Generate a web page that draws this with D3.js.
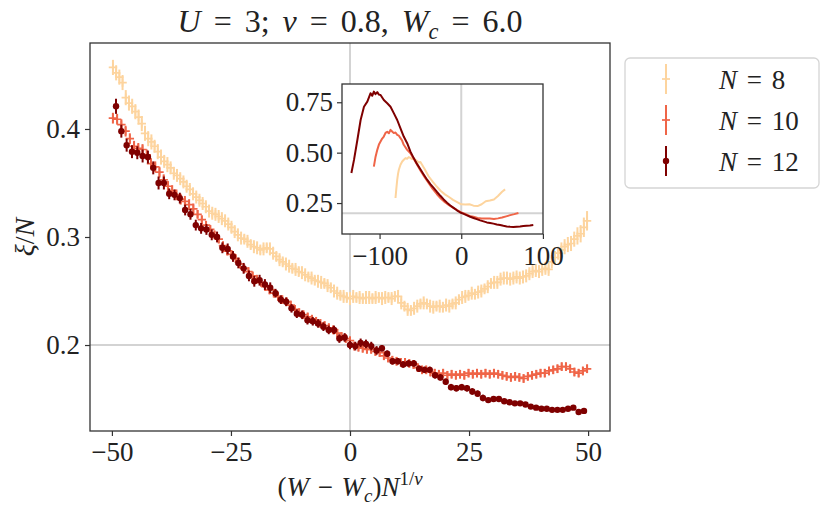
<!DOCTYPE html>
<html>
<head>
<meta charset="utf-8">
<script src="https://cdn.jsdelivr.net/npm/d3@7"></script>
<style>
  body { margin: 0; background: #fff; }
  svg text { font-family: "Liberation Serif", "DejaVu Serif", serif; fill: #222; }
</style>
</head>
<body>
<svg id="chart" width="830" height="517"></svg>
<script>
// ---- parameters of the scaling ----
const W_C = 6.0;
const NU = 0.8;
const W_STEP = 0.05;          // grid step in W, x = (W - Wc) N^(1/nu)
const sizes = [8, 10, 12];
const colors = ['#fdd49e', '#ef6548', '#7f0000'];

// ---- main panel: xi/N, points centred on W = Wc ----
const xi8 = [
  0.457, 0.452, 0.448, 0.443, 0.429, 0.424, 0.421, 0.416, 0.411, 0.405,
  0.396, 0.391, 0.388, 0.384, 0.379, 0.374, 0.370, 0.367, 0.364, 0.359,
  0.357, 0.354, 0.351, 0.347, 0.344, 0.340, 0.337, 0.334, 0.331, 0.328,
  0.324, 0.322, 0.321, 0.319, 0.317, 0.315, 0.312, 0.309, 0.305, 0.302,
  0.299, 0.298, 0.296, 0.293, 0.291, 0.290, 0.288, 0.289, 0.290, 0.289,
  0.285, 0.282, 0.279, 0.277, 0.275, 0.273, 0.271, 0.270, 0.268, 0.267,
  0.265, 0.263, 0.262, 0.260, 0.259, 0.258, 0.257, 0.255, 0.253, 0.250,
  0.248, 0.246, 0.245, 0.244, 0.243, 0.245, 0.244, 0.244, 0.243, 0.244,
  0.244, 0.243, 0.244, 0.244, 0.243, 0.244, 0.244, 0.243, 0.245, 0.245,
  0.239, 0.236, 0.233, 0.232, 0.234, 0.236, 0.238, 0.239, 0.238, 0.236,
  0.235, 0.236, 0.236, 0.235, 0.237, 0.236, 0.238, 0.239, 0.242, 0.244,
  0.245, 0.246, 0.248, 0.247, 0.249, 0.250, 0.252, 0.254, 0.257, 0.258,
  0.258, 0.261, 0.262, 0.262, 0.261, 0.262, 0.263, 0.262, 0.263, 0.264,
  0.266, 0.268, 0.269, 0.268, 0.270, 0.271, 0.270, 0.277, 0.281, 0.285,
  0.288, 0.291, 0.293, 0.294, 0.298, 0.301, 0.303, 0.309, 0.315
];
const err8 = [
  0.007, 0.007, 0.007, 0.007, 0.007, 0.007, 0.007, 0.007, 0.007, 0.007,
  0.007, 0.007, 0.007, 0.006, 0.007, 0.007, 0.006, 0.007, 0.006, 0.006,
  0.006, 0.006, 0.006, 0.006, 0.006, 0.006, 0.006, 0.006, 0.006, 0.006,
  0.006, 0.006, 0.006, 0.006, 0.006, 0.006, 0.006, 0.006, 0.006, 0.006,
  0.006, 0.005, 0.006, 0.005, 0.006, 0.006, 0.005, 0.006, 0.005, 0.006,
  0.006, 0.005, 0.006, 0.005, 0.006, 0.006, 0.005, 0.006, 0.005, 0.006,
  0.006, 0.005, 0.006, 0.005, 0.006, 0.006, 0.005, 0.006, 0.005, 0.006,
  0.006, 0.005, 0.006, 0.005, 0.006, 0.006, 0.005, 0.006, 0.005, 0.006,
  0.006, 0.005, 0.006, 0.005, 0.006, 0.006, 0.005, 0.006, 0.005, 0.006,
  0.006, 0.005, 0.006, 0.005, 0.006, 0.006, 0.005, 0.006, 0.005, 0.006,
  0.006, 0.005, 0.006, 0.005, 0.006, 0.006, 0.005, 0.006, 0.005, 0.006,
  0.006, 0.005, 0.006, 0.005, 0.006, 0.006, 0.005, 0.006, 0.005, 0.006,
  0.006, 0.006, 0.006, 0.006, 0.006, 0.006, 0.006, 0.006, 0.006, 0.006,
  0.006, 0.006, 0.006, 0.006, 0.006, 0.006, 0.006, 0.006, 0.006, 0.006,
  0.007, 0.007, 0.007, 0.007, 0.007, 0.008, 0.008, 0.009, 0.009
];
const xi10 = [
  0.410, 0.409, 0.404, 0.398, 0.391, 0.384, 0.382, 0.381, 0.376, 0.368,
  0.365, 0.360, 0.353, 0.347, 0.343, 0.339, 0.335, 0.333, 0.330, 0.326,
  0.321, 0.316, 0.311, 0.307, 0.302, 0.298, 0.292, 0.287, 0.284, 0.280,
  0.275, 0.271, 0.268, 0.264, 0.261, 0.258, 0.254, 0.251, 0.248, 0.245,
  0.242, 0.240, 0.237, 0.233, 0.230, 0.228, 0.226, 0.224, 0.222, 0.220,
  0.218, 0.216, 0.214, 0.211, 0.208, 0.206, 0.204,
  0.199, 0.198, 0.197, 0.196, 0.196, 0.194, 0.193, 0.190, 0.188, 0.186,
  0.185, 0.184, 0.184, 0.183, 0.182, 0.179, 0.177, 0.177, 0.175, 0.174,
  0.173, 0.174, 0.172, 0.173, 0.172, 0.173, 0.172, 0.174, 0.173, 0.174,
  0.173, 0.174, 0.173, 0.174, 0.173, 0.172, 0.171, 0.170, 0.171, 0.170,
  0.169, 0.171, 0.172, 0.173, 0.174, 0.174, 0.176, 0.177, 0.178, 0.180,
  0.180, 0.178, 0.175, 0.174, 0.176, 0.178
];
const err10 = [
  0.005, 0.005, 0.005, 0.005, 0.005, 0.005, 0.005, 0.005, 0.005, 0.005,
  0.005, 0.005, 0.005, 0.005, 0.005, 0.005, 0.005, 0.005, 0.005, 0.005,
  0.004, 0.004, 0.004, 0.004, 0.004, 0.004, 0.004, 0.004, 0.004, 0.004,
  0.004, 0.004, 0.004, 0.004, 0.004, 0.004, 0.004, 0.004, 0.004, 0.004,
  0.004, 0.004, 0.004, 0.004, 0.004, 0.004, 0.004, 0.004, 0.004, 0.004,
  0.004, 0.004, 0.004, 0.004, 0.004, 0.004, 0.004,
  0.004, 0.004, 0.004, 0.004, 0.004, 0.004, 0.004, 0.004, 0.004, 0.004,
  0.004, 0.004, 0.004, 0.004, 0.004, 0.004, 0.004, 0.004, 0.004, 0.004,
  0.004, 0.004, 0.004, 0.004, 0.004, 0.004, 0.004, 0.004, 0.004, 0.004,
  0.004, 0.004, 0.004, 0.004, 0.004, 0.004, 0.004, 0.004, 0.004, 0.004,
  0.004, 0.004, 0.004, 0.004, 0.004, 0.004, 0.004, 0.004, 0.004, 0.004,
  0.004, 0.004, 0.004, 0.004, 0.004, 0.004
];
const xi12 = [
  0.421, 0.398, 0.385, 0.379, 0.378, 0.375, 0.374, 0.364, 0.350, 0.350,
  0.340, 0.339, 0.336, 0.325, 0.321, 0.311, 0.308, 0.307, 0.302, 0.300,
  0.290, 0.289, 0.282, 0.276, 0.271, 0.264, 0.259, 0.260, 0.256, 0.253,
  0.248, 0.242, 0.240, 0.234, 0.229, 0.228, 0.223, 0.222, 0.220, 0.217,
  0.214, 0.214, 0.206, 0.207, 0.200,
  0.199, 0.202, 0.201, 0.199, 0.195, 0.197, 0.192, 0.185, 0.185, 0.182,
  0.183, 0.183, 0.178, 0.177, 0.177, 0.172, 0.170, 0.166, 0.161, 0.160,
  0.161, 0.160, 0.157, 0.155, 0.151, 0.149, 0.150, 0.150, 0.148, 0.147,
  0.146, 0.146, 0.145, 0.143, 0.142, 0.141, 0.141, 0.140, 0.140, 0.140,
  0.141, 0.142, 0.138, 0.139
];
const err12 = [
  0.007, 0.006, 0.006, 0.006, 0.006, 0.006, 0.006, 0.006, 0.006, 0.006,
  0.005, 0.005, 0.005, 0.005, 0.005, 0.005, 0.005, 0.005, 0.005, 0.005,
  0.005, 0.005, 0.005, 0.005, 0.005, 0.005, 0.005, 0.005, 0.005, 0.005,
  0.004, 0.004, 0.004, 0.004, 0.004, 0.004, 0.004, 0.004, 0.004, 0.004,
  0.004, 0.004, 0.004, 0.004, 0.004,
  0.004, 0.004, 0.004, 0.004, 0.004, 0.003, 0.003, 0.003, 0.003, 0.003,
  0.003, 0.003, 0.003, 0.003, 0.003, 0.003, 0.003, 0.003, 0.003, 0.003,
  0.003, 0.003, 0.003, 0.003, 0.003, 0.002, 0.002, 0.002, 0.002, 0.002,
  0.002, 0.002, 0.002, 0.002, 0.002, 0.002, 0.002, 0.002, 0.002, 0.002,
  0.002, 0.002, 0.002, 0.002
];

// ---- inset: full range of scaled W ----
const insetX8 = [-80.5, -79.5, -78.4, -77.4, -76.4, -74.4, -72.3, -70.3, -68.3, -66.3, -64.3, -62.2, -60.1, -58.1, -56.1, -54, -52, -50, -45, -40, -35, -30, -25, -20, -15, -10, -5, 0, 5, 10, 15, 20, 25, 30, 35, 40, 45, 50, 53.7];
const insetY8 = [0.275, 0.320, 0.365, 0.395, 0.415, 0.440, 0.456, 0.465, 0.473, 0.470, 0.478, 0.474, 0.468, 0.470, 0.464, 0.458, 0.451, 0.454, 0.420, 0.383, 0.356, 0.332, 0.310, 0.293, 0.280, 0.266, 0.255, 0.244, 0.243, 0.244, 0.237, 0.235, 0.244, 0.259, 0.263, 0.268, 0.285, 0.306, 0.318];
const insetX10 = [-107, -104.9, -102.8, -100.8, -98.8, -96.8, -94.8, -92.7, -90.6, -88.6, -86.6, -84.6, -82.6, -80.5, -78.4, -76.4, -74.4, -72.4, -70.4, -66.2, -62.2, -58.2, -54, -50, -45, -40, -35, -30, -25, -20, -15, -10, -5, 0, 5, 10, 15, 20, 25, 30, 35, 40, 45, 50, 55, 60, 65, 70];
const insetY10 = [0.431, 0.480, 0.514, 0.540, 0.555, 0.570, 0.580, 0.598, 0.604, 0.596, 0.613, 0.605, 0.597, 0.600, 0.588, 0.584, 0.572, 0.560, 0.539, 0.514, 0.497, 0.470, 0.440, 0.412, 0.380, 0.350, 0.320, 0.295, 0.272, 0.254, 0.240, 0.227, 0.215, 0.204, 0.196, 0.186, 0.182, 0.176, 0.173, 0.173, 0.173, 0.171, 0.174, 0.178, 0.184, 0.190, 0.195, 0.201];
const insetX12 = [-134.5, -131.3, -127.2, -123.2, -119.1, -115, -111, -109, -107, -105, -102.8, -100.8, -98.8, -94.8, -90.6, -86.6, -82.6, -78.4, -74.4, -70.4, -66.2, -62.2, -58.2, -54, -50, -46, -41.8, -37.8, -33.8, -29.7, -25.6, -21.5, -17.4, -13.4, -9.4, -5.3, -1.2, 3, 7, 11, 15, 19, 23.2, 27.3, 31.3, 35.4, 39.4, 43.5, 47.6, 51.6, 55.7, 59.8, 63.8, 67.9, 72, 76, 80, 84.1, 88.2];
const insetY12 = [0.399, 0.464, 0.563, 0.662, 0.728, 0.753, 0.795, 0.782, 0.803, 0.790, 0.800, 0.788, 0.786, 0.761, 0.745, 0.728, 0.696, 0.662, 0.621, 0.580, 0.547, 0.505, 0.473, 0.443, 0.418, 0.392, 0.366, 0.344, 0.325, 0.305, 0.286, 0.268, 0.252, 0.238, 0.226, 0.214, 0.203, 0.196, 0.189, 0.182, 0.176, 0.170, 0.164, 0.159, 0.154, 0.151, 0.148, 0.144, 0.141, 0.137, 0.134, 0.132, 0.131, 0.133, 0.134, 0.136, 0.138, 0.139, 0.141];

// ---- tick values ----
const xTicks = [-50, -25, 0, 25, 50];
const yTicks = [0.2, 0.3, 0.4];
const insetXTicks = [-100, 0, 100];
const insetYTicks = [0.25, 0.5, 0.75];

const series = [
  { n: 8, y: xi8, err: err8, marker: 'plus' },
  { n: 10, y: xi10, err: err10, marker: 'plus' },
  { n: 12, y: xi12, err: err12, marker: 'dot' }
].map((s, i) => {
  const scale = W_STEP * Math.pow(s.n, 1 / NU);
  const mid = (s.y.length - 1) / 2;
  s.color = colors[i];
  s.points = s.y.map((v, j) => ({ x: (j - mid) * scale, y: v, e: s.err[j] }));
  return s;
});
const insetSeries = [
  { x: insetX8, y: insetY8 },
  { x: insetX10, y: insetY10 },
  { x: insetX12, y: insetY12 }
].map((s, i) => ({ color: colors[i], pts: s.x.map((v, j) => [v, s.y[j]]) }));

// ---- layout ----
const svg = d3.select('#chart');
const M = { left: 90, right: 610, top: 43, bottom: 431 };
const TICK_FONT = 27;

const x = d3.scaleLinear().domain([-54.6, 54.6]).range([M.left, M.right]);
const y = d3.scaleLinear().domain([0.1204, 0.4796]).range([M.bottom, M.top]);

// math-like text made of tspans
function mathText(parent, parts, size) {
  const t = parent.append('text').style('font-size', size + 'px');
  let shift = 0;
  parts.forEach(p => {
    const sp = t.append('tspan').text(p.t);
    let target = 0;
    if (p.pos === 'sub') target = 0.22 * size;
    if (p.pos === 'sup') target = -0.42 * size;
    if (target !== shift) { sp.attr('dy', target - shift); shift = target; }
    if (p.pos) sp.style('font-size', (size * 0.7) + 'px');
    if (p.i) sp.style('font-style', 'italic');
  });
  return t;
}

// reference lines
const refG = svg.append('g');
refG.append('line')
  .attr('x1', x(0)).attr('x2', x(0)).attr('y1', M.top).attr('y2', M.bottom)
  .attr('stroke', '#d3d3d3').attr('stroke-width', 2);
refG.append('line')
  .attr('x1', M.left).attr('x2', M.right).attr('y1', y(0.2)).attr('y2', y(0.2))
  .attr('stroke', '#d3d3d3').attr('stroke-width', 2);

// data with error bars
series.forEach(s => {
  const g = svg.append('g');
  g.selectAll('line.err')
    .data(s.points)
    .enter()
    .append('line')
    .attr('class', 'err')
    .attr('x1', d => x(d.x)).attr('x2', d => x(d.x))
    .attr('y1', d => y(d.y - d.e)).attr('y2', d => y(d.y + d.e))
    .attr('stroke', s.color)
    .attr('stroke-width', 2);
  if (s.marker === 'plus') {
    g.selectAll('path.mk')
      .data(s.points)
      .enter()
      .append('path')
      .attr('class', 'mk')
      .attr('d', d => {
        const cx = x(d.x), cy = y(d.y), r = 4.2;
        return `M${cx - r},${cy}H${cx + r}M${cx},${cy - r}V${cy + r}`;
      })
      .attr('stroke', s.color)
      .attr('stroke-width', 1.7)
      .attr('fill', 'none');
  } else {
    g.selectAll('circle.mk')
      .data(s.points)
      .enter()
      .append('circle')
      .attr('class', 'mk')
      .attr('cx', d => x(d.x))
      .attr('cy', d => y(d.y))
      .attr('r', 3.2)
      .attr('fill', s.color);
  }
});

// axes
function styleAxis(g) {
  g.select('.domain').remove();
  g.selectAll('.tick line').attr('stroke', '#333').attr('stroke-width', 1.2);
  g.selectAll('.tick text')
    .style('font-size', TICK_FONT + 'px')
    .attr('fill', '#222');
}
svg.append('g')
  .attr('transform', `translate(0,${M.bottom})`)
  .call(d3.axisBottom(x).tickValues(xTicks).tickSize(5).tickPadding(6).tickFormat(d3.format('d')))
  .call(styleAxis);
svg.append('g')
  .attr('transform', `translate(${M.left},0)`)
  .call(d3.axisLeft(y).tickValues(yTicks).tickSize(5).tickPadding(5).tickFormat(d3.format('.1f')))
  .call(styleAxis);
svg.append('rect')
  .attr('x', M.left).attr('y', M.top)
  .attr('width', M.right - M.left).attr('height', M.bottom - M.top)
  .attr('fill', 'none').attr('stroke', '#333').attr('stroke-width', 1.3);

// ---- inset ----
const I = { left: 342, right: 543, top: 84, bottom: 234 };
const ix = d3.scaleLinear().domain([-146, 100.1]).range([I.left, I.right]);
const iy = d3.scaleLinear().domain([0.0965, 0.8406]).range([I.bottom, I.top]);
const inset = svg.append('g');
inset.append('rect')
  .attr('x', I.left).attr('y', I.top)
  .attr('width', I.right - I.left).attr('height', I.bottom - I.top)
  .attr('fill', '#fff');
inset.append('line')
  .attr('x1', ix(0)).attr('x2', ix(0)).attr('y1', I.top).attr('y2', I.bottom)
  .attr('stroke', '#d3d3d3').attr('stroke-width', 2);
inset.append('line')
  .attr('x1', I.left).attr('x2', I.right).attr('y1', iy(0.2)).attr('y2', iy(0.2))
  .attr('stroke', '#d3d3d3').attr('stroke-width', 2);
const line = d3.line().x(d => ix(d[0])).y(d => iy(d[1]));
insetSeries.forEach(s => {
  inset.append('path')
    .attr('d', line(s.pts))
    .attr('fill', 'none')
    .attr('stroke', s.color)
    .attr('stroke-width', 2)
    .attr('stroke-linejoin', 'round');
});
inset.append('g')
  .attr('transform', `translate(0,${I.bottom})`)
  .call(d3.axisBottom(ix).tickValues(insetXTicks).tickSize(5).tickPadding(7).tickFormat(d3.format('d')))
  .call(styleAxis);
inset.append('g')
  .attr('transform', `translate(${I.left},0)`)
  .call(d3.axisLeft(iy).tickValues(insetYTicks).tickSize(5).tickPadding(4).tickFormat(d3.format('.2f')))
  .call(styleAxis);
inset.append('rect')
  .attr('x', I.left).attr('y', I.top)
  .attr('width', I.right - I.left).attr('height', I.bottom - I.top)
  .attr('fill', 'none').attr('stroke', '#333').attr('stroke-width', 1.3);

// ---- title and axis labels ----
mathText(svg, [
  { t: 'U', i: true }, { t: ' = 3; ' }, { t: 'ν', i: true }, { t: ' = 0.8, ' },
  { t: 'W', i: true }, { t: 'c', i: true, pos: 'sub' }, { t: ' = 6.0' }
], 32).attr('x', (M.left + M.right) / 2).attr('y', 32)
  .attr('text-anchor', 'middle').style('word-spacing', '5px');

mathText(svg, [
  { t: '(' }, { t: 'W', i: true }, { t: ' − ' }, { t: 'W', i: true },
  { t: 'c', i: true, pos: 'sub' }, { t: ')' }, { t: 'N', i: true },
  { t: '1/', pos: 'sup' }, { t: 'ν', i: true, pos: 'sup' }
], 27).attr('x', (M.left + M.right) / 2).attr('y', 496)
  .attr('text-anchor', 'middle').style('word-spacing', '2px');

mathText(svg, [{ t: 'ξ', i: true }, { t: '/' }, { t: 'N', i: true }], 28)
  .attr('text-anchor', 'middle')
  .attr('transform', `translate(34,${(M.top + M.bottom) / 2}) rotate(-90)`);

// ---- legend ----
const legend = svg.append('g');
legend.append('rect')
  .attr('x', 625).attr('y', 58).attr('width', 194).attr('height', 130)
  .attr('rx', 5)
  .attr('fill', '#fff').attr('stroke', '#d5d5d5').attr('stroke-width', 1.3);
series.forEach((s, i) => {
  const cy = 79 + i * 41;
  const g = legend.append('g');
  g.append('line')
    .attr('x1', 666).attr('x2', 666).attr('y1', cy - 15).attr('y2', cy + 15)
    .attr('stroke', s.color).attr('stroke-width', 2);
  if (s.marker === 'plus') {
    g.append('line')
      .attr('x1', 662).attr('x2', 670).attr('y1', cy).attr('y2', cy)
      .attr('stroke', s.color).attr('stroke-width', 1.7);
  } else {
    g.append('circle').attr('cx', 666).attr('cy', cy).attr('r', 3.2).attr('fill', s.color);
  }
  mathText(g, [{ t: 'N', i: true }, { t: ' = ' + s.n }], 27)
    .attr('x', 719).attr('y', cy + 10).style('word-spacing', '3px');
});
</script>
</body>
</html>
